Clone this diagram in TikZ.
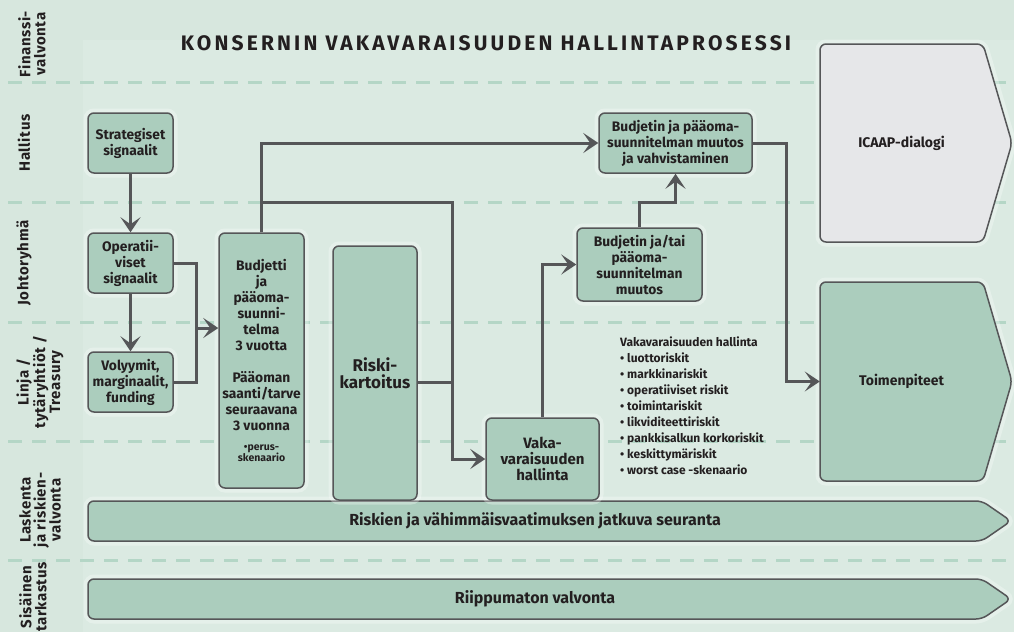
\documentclass[tikz,border=0pt]{standalone}
\usepackage{fontspec}
\setmainfont{Fira Sans}
\newfontfamily\titlefont[LetterSpace=15]{Fira Sans}
\newfontfamily\lanefont[LetterSpace=4]{Fira Sans}
\usetikzlibrary{arrows.meta,positioning,calc}
\definecolor{lanebg}{HTML}{D7E7DE}
\definecolor{panelbg}{HTML}{DBEAE2}
\definecolor{sage}{HTML}{ABCDBD}
\definecolor{icaapgray}{HTML}{E6E7E9}
\definecolor{linegray}{HTML}{555658}
\definecolor{lanedash}{HTML}{B4D6C6}
\definecolor{textdark}{HTML}{231F20}

\tikzset{
  procbox/.style={draw=linegray,line width=1.5pt,rounded corners=6pt,fill=sage,align=center,
    font=\bfseries\fontsize{13.8}{16}\selectfont,text=textdark,inner sep=2pt,
    preaction={draw=white,draw opacity=0.3,line width=9pt}},
  pentshape/.style={draw=linegray,line width=1.5pt,rounded corners=6pt,
    preaction={draw=white,draw opacity=0.3,line width=9pt}},
  pentlabel/.style={align=center,font=\bfseries\fontsize{14}{16}\selectfont,text=textdark},
  conn/.style={draw=linegray,line width=3pt,-{Stealth[length=15pt,width=20pt,inset=7pt]}},
  wire/.style={draw=linegray,line width=3pt},
  lanelabel/.style={rotate=90,align=center,font=\lanefont\bfseries\fontsize{15}{15}\selectfont,text=textdark},
  laneline/.style={draw=lanedash,line width=3pt,dash pattern=on 14pt off 10pt},
}

\begin{document}
\begin{tikzpicture}[x=1pt,y=-1pt]
  \useasboundingbox[fill=lanebg] (0,0) rectangle (1014,632);
  \fill[panelbg] (83,40) rectangle (1014,632);
  % lanes
  \foreach \y in {82,202,322,441,560} {\draw[laneline] (8,\y) -- (1010,\y);}
  \node[lanelabel] (lfinanssi) at (32,44) {Finanssi-\\valvonta};
  \node[lanelabel] (lhallitus) at (24,143) {Hallitus};
  \node[lanelabel] (ljohto) at (24,263) {Johtoryhmä};
  \node[lanelabel] (llinja) at (40,382) {Linja /\\tytäryhtiöt /\\Treasury};
  \node[lanelabel] (llaskenta) at (40,510) {Laskenta\\ja riskien-\\valvonta};
  \node[lanelabel] (lsisainen) at (33,597) {Sisäinen\\tarkastus};
  % title
  \node[font=\titlefont\bfseries\fontsize{21}{22}\selectfont,text=textdark] (otsikko) at (486,43) {KONSERNIN VAKAVARAISUUDEN HALLINTAPROSESSI};
  % pentagons
  \draw[pentshape,fill=icaapgray] (820,44) -- (983,44) -- (1012,143) -- (983,242) -- (820,242) -- cycle;
  \draw[pentshape,fill=sage] (820,282) -- (983,282) -- (1012,381.5) -- (983,481) -- (820,481) -- cycle;
  \draw[pentshape,fill=sage] (88,501) -- (982,501) -- (1011,521) -- (982,541) -- (88,541) -- cycle;
  \draw[pentshape,fill=sage] (88,579) -- (982,579) -- (1011,599) -- (982,619) -- (88,619) -- cycle;
  \node[pentlabel,minimum width=163pt,minimum height=198pt] (icaap) at (901.5,143) {ICAAP-dialogi};
  \node[pentlabel,minimum width=163pt,minimum height=199pt] (toim) at (901.5,381.5) {Toimenpiteet};
  \node[pentlabel,font=\bfseries\fontsize{16}{17}\selectfont] (seuranta) at (535,521) {Riskien ja vähimmäisvaatimuksen jatkuva seuranta};
  \node[pentlabel,font=\bfseries\fontsize{16}{17}\selectfont] (valvonta) at (535,599) {Riippumaton valvonta};
  % connectors
  \coordinate (jopv) at (196,328);
  \coordinate (jbud) at (261.5,202);
  \coordinate (jrisk) at (452,382);
  \node[procbox,minimum width=85pt,minimum height=60pt] (strat) at (130.5,143) {Strategiset\\signaalit};
  \node[procbox,minimum width=85pt,minimum height=60pt] (oper) at (130.5,263) {Operatii-\\viset\\signaalit};
  \node[procbox,minimum width=85pt,minimum height=60pt] (vol) at (130.5,382) {Volyymit,\\marginaalit,\\funding};
  \node[procbox,minimum width=85pt,minimum height=255pt] (budj) at (261.5,360.5) {Budjetti\\ja\\pääoma-\\suunni-\\telma\\3 vuotta\\[16pt]Pääoman\\saanti/tarve\\seuraavana\\3 vuonna\\[4pt]{\fontsize{10.5}{9}\selectfont •perus-}\\[-5pt]{\fontsize{10.5}{9}\selectfont skenaario}};
  \node[procbox,minimum width=84pt,minimum height=254pt,font=\bfseries\fontsize{17}{17}\selectfont] (risk) at (375,373) {Riski-\\kartoitus};
  \node[procbox,minimum width=113pt,minimum height=82pt,font=\bfseries\fontsize{15}{16}\selectfont] (vaka) at (542.5,459) {Vaka-\\varaisuuden\\hallinta};
  \node[procbox,minimum width=125pt,minimum height=73pt] (bmuut) at (639.5,264.5) {Budjetin ja/tai\\pääoma-\\suunnitelman\\muutos};
  \node[procbox,minimum width=153pt,minimum height=60pt,font=\bfseries\fontsize{13.8}{16}\selectfont] (bvahv) at (675.5,143) {Budjetin ja pääoma-\\suunnitelman muutos\\ja vahvistaminen};
  \node[anchor=north west,align=left,font=\bfseries\fontsize{12}{16}\selectfont,text=textdark,inner sep=0pt] (vaklista) at (620,337) {Vakavaraisuuden hallinta\\• luottoriskit\\• markkinariskit\\• operatiiviset riskit\\• toimintariskit\\• likviditeettiriskit\\• pankkisalkun korkoriskit\\• keskittymäriskit\\• worst case -skenaario};
  \draw[conn] (strat) -- (oper);
  \draw[conn] (oper) -- (vol);
  \draw[wire] (oper.east) -| (jopv) |- (vol.east);
  \draw[conn] (jopv) -- (jopv -| budj.west);
  \draw[conn] (budj.north) |- (bvahv.west);
  \draw[wire] (jbud) -| (jrisk);
  \draw[wire] (jrisk -| risk.east) -- (jrisk);
  \draw[conn] (jrisk) |- (vaka.west);
  \draw[conn] (vaka.north) |- (bmuut.west);
  \draw[conn] (bmuut.north) -- ++(0,-25) -| (bvahv.south);
  \draw[conn] (bvahv.east) -- ++(34,0) |- (toim.west);
\end{tikzpicture}
\end{document}
